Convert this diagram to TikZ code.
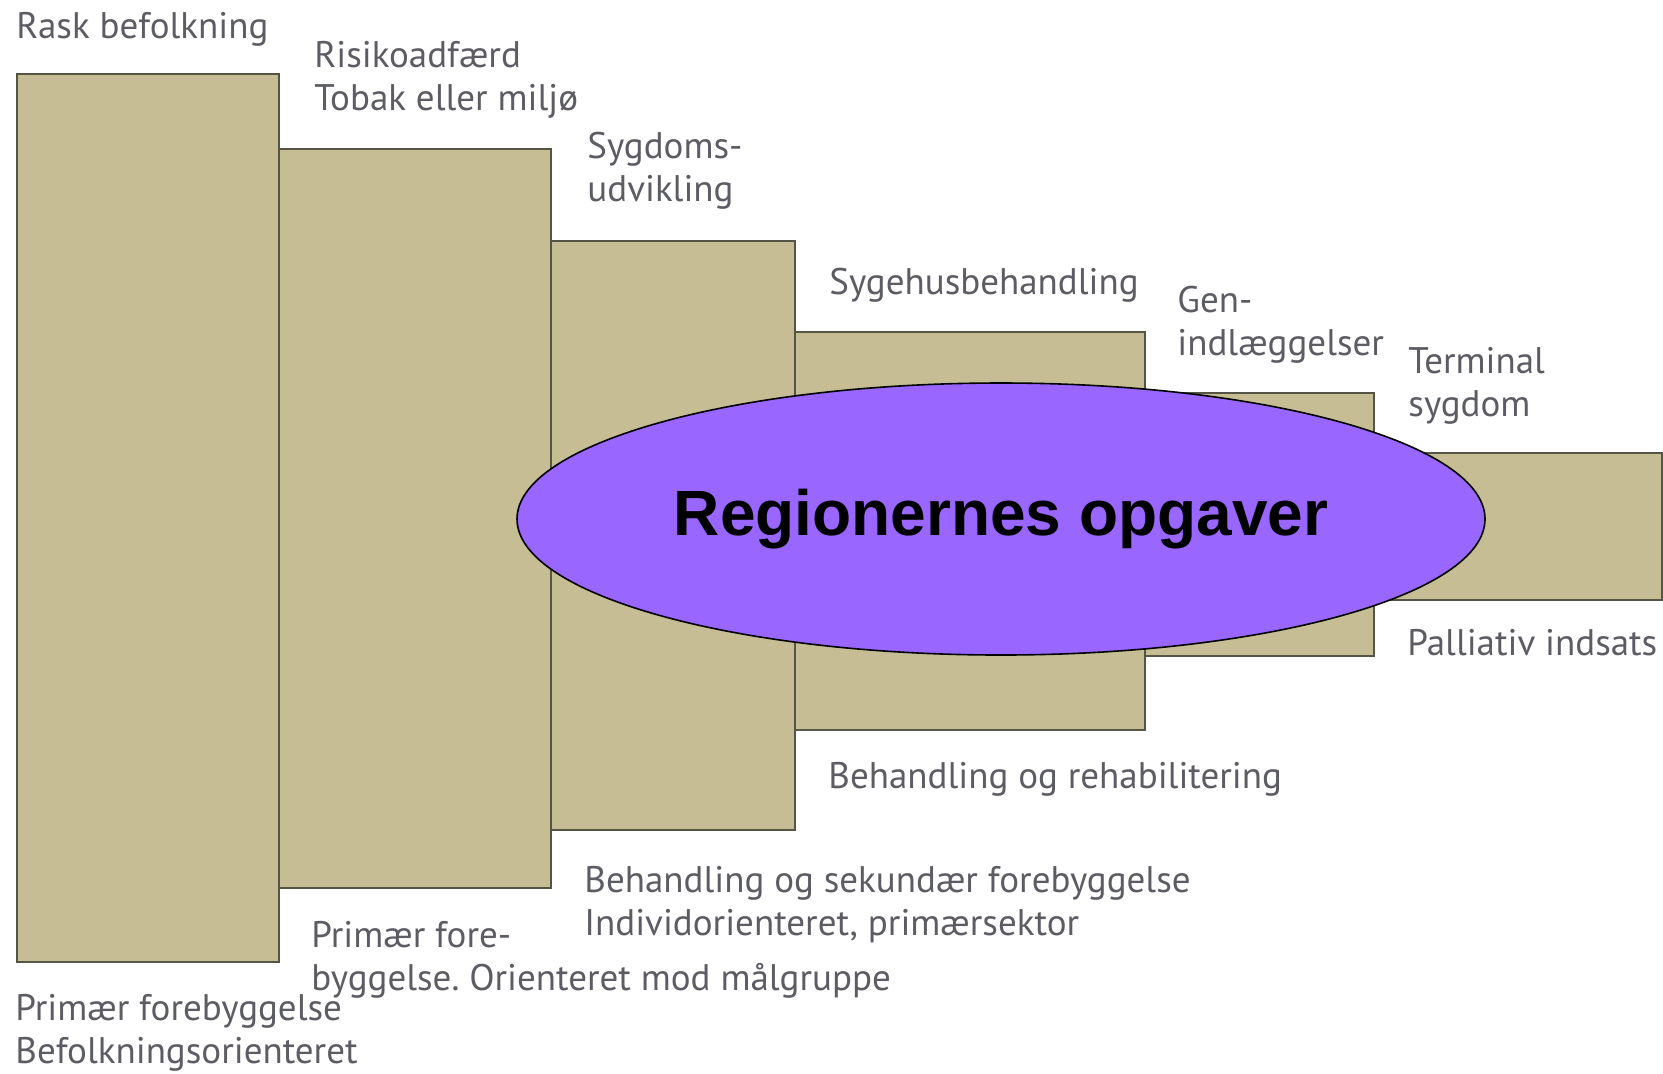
\documentclass[tikz,border=0pt]{standalone}
\usepackage{fontspec}
\setmainfont{PT Sans}
\newfontfamily\arialfont{Liberation Sans}
\frenchspacing
\usetikzlibrary{shapes.geometric, positioning}
\definecolor{khaki}{RGB}{199,189,148}
\definecolor{khakiedge}{RGB}{85,85,70}
\definecolor{labelgray}{RGB}{92,92,100}
\definecolor{regionviolet}{RGB}{153,102,255}
\tikzstyle{stage} = [
  rectangle,
  anchor=north west,
  inner sep=0,
  draw=khakiedge,
  line width=1pt,
  fill=khaki
]
\tikzstyle{caption} = [
  anchor=base west,
  inner sep=0,
  align=left,
  text=labelgray,
  font=\fontsize{18.5}{21.5}\selectfont
]
\tikzstyle{region} = [
  ellipse,
  draw=black,
  line width=0.8pt,
  fill=regionviolet,
  minimum width=484pt,
  minimum height=136pt,
  inner sep=0,
  font=\arialfont\bfseries\fontsize{32}{36}\selectfont
]

\begin{document}
\begin{tikzpicture}[x=0.5pt,y=-0.5pt]
      \useasboundingbox (0,0) rectangle (1663,1073);
      \node [stage, minimum width=131pt, minimum height=444pt] (healthy) at (16,73) {};
      \node [stage, minimum width=136pt, minimum height=369.5pt] (risk) at (278,148) {};
      \node [stage, minimum width=122pt, minimum height=294.5pt] (disease) at (550,240) {};
      \node [stage, minimum width=175pt, minimum height=199pt] (hospital) at (794,331) {};
      \node [stage, minimum width=114.5pt, minimum height=131.5pt] (readmit) at (1144,392) {};
      \node [stage, minimum width=144pt, minimum height=73.5pt] (terminal) at (1373,452) {};

      \node [region] (tasks) at (1001,519) {Regionernes opgaver};

      % two-line captions sit on the baseline of their last line
      \node [caption] (healthytop) at (16,38) {Rask befolkning};
      \node [caption] (risktop) at (314,110) {Risikoadfærd\\Tobak eller miljø};
      \node [caption] (diseasetop) at (587,201) {Sygdoms-\\udvikling};
      \node [caption] (hospitaltop) at (829,294) {Sygehusbehandling};
      \node [caption] (readmittop) at (1177,355) {Gen-\\indlæggelser};
      \node [caption] (terminaltop) at (1408,416) {Terminal\\sygdom};
      \node [caption] (terminalbot) at (1407,655) {Palliativ indsats};
      \node [caption] (hospitalbot) at (828,788) {Behandling og rehabilitering};
      \node [caption] (diseasebot) at (584,935) {Behandling og sekundær forebyggelse\\Individorienteret, primærsektor};
      \node [caption] (riskbot) at (311,990) {Primær fore-\\byggelse. Orienteret mod målgruppe};
      \node [caption] (healthybot) at (15,1063) {Primær forebyggelse\\Befolkningsorienteret};
    \end{tikzpicture}
\end{document}
